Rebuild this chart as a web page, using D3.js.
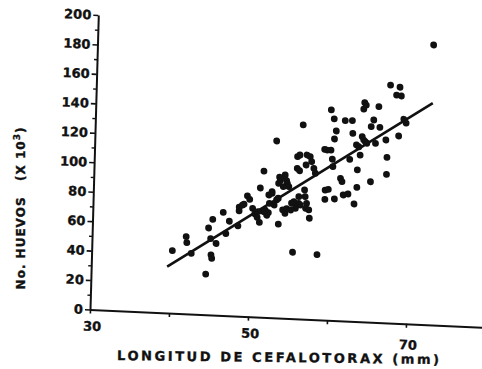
<!DOCTYPE html>
<html>
<head>
<meta charset="utf-8">
<script src="https://cdn.jsdelivr.net/npm/d3@7/dist/d3.min.js"></script>
<style>
  body { margin: 0; background: #fff; }
  svg { display: block; }
  text { font-family: 'DejaVu Sans', sans-serif; font-weight: bold; fill: #111; stroke: #111; stroke-width: 0.35px; }
</style>
</head>
<body>
<div id="chart"></div>
<script>
// longitud de cefalotorax (mm)
var lengthMm = [
  40.2, 41.9, 42.0, 42.6, 44.5, 44.7, 45.2, 45.0, 45.1, 45.2,
  45.7, 46.5, 46.9, 47.3, 48.4, 48.5, 48.5, 48.9, 49.1, 49.5,
  50.2, 51.1, 51.1, 51.5, 51.8, 52.0, 52.2, 52.6, 52.9, 53.2,
  53.5, 53.5, 53.6, 54.1, 54.4, 54.5, 54.0, 54.3, 54.5, 55.4,
  55.1, 55.6, 55.8, 56.0, 55.7, 56.0, 56.9, 57.3, 57.5, 55.7,
  56.0, 56.8, 58.0, 59.1, 56.7, 56.8, 57.0, 56.9, 57.3, 57.4,
  58.5, 59.3, 59.3, 53.0, 56.3, 52.2, 52.6, 52.3, 51.6, 53.4,
  55.0, 55.4, 56.0, 56.2, 54.2, 54.7, 54.0, 53.4, 50.5, 50.9,
  50.8, 67.2, 68.4, 68.0, 68.6, 59.8, 60.2, 64.0, 64.2, 63.9,
  65.8, 61.6, 62.5, 65.2, 64.9, 66.0, 60.5, 62.6, 60.3, 63.8,
  64.0, 64.2, 64.4, 63.1, 63.4, 66.8, 65.5, 68.4, 69.0, 69.3,
  59.4, 59.9, 63.6, 62.3, 60.1, 60.2, 67.0, 63.3, 67.0, 61.2,
  61.4, 65.0, 63.3, 59.7, 61.6, 62.2, 60.5, 63.0, 72.5, 57.8,
  49.8
]
// no. huevos (x 10^3)
var eggs = [
  42.5, 52.4, 48.3, 41.1, 27.5, 58.9, 64.9, 51.8, 40.7, 38.4,
  48.6, 69.9, 55.6, 64.1, 61.2, 71.4, 73.9, 75.5, 76.2, 81.8,
  73.6, 64.2, 87.6, 99.2, 72.8, 69.3, 71.1, 84.4, 76.5, 80.0,
  63.7, 95.5, 93.2, 95.6, 93.4, 91.6, 73.4, 71.2, 74.4, 45.0,
  78.2, 74.9, 77.2, 78.4, 110.0, 111.2, 111.4, 110.4, 107.0, 102.1,
  100.5, 104.6, 99.3, 115.8, 87.6, 83.1, 78.6, 75.2, 74.2, 68.6,
  44.2, 88.2, 81.9, 120.0, 131.7, 83.1, 85.5, 77.5, 71.6, 81.2,
  73.6, 79.3, 82.9, 77.3, 97.2, 89.4, 89.2, 91.3, 69.8, 71.5,
  67.6, 161.4, 160.2, 154.8, 154.3, 142.7, 136.7, 148.6, 147.1, 144.3,
  146.4, 135.9, 136.1, 137.2, 132.6, 132.4, 128.6, 127.5, 123.1, 125.5,
  123.3, 122.2, 121.2, 119.7, 118.6, 124.0, 121.4, 127.1, 138.6, 136.0,
  115.4, 115.5, 113.0, 109.8, 109.3, 104.3, 112.3, 102.8, 100.7, 96.6,
  94.4, 95.2, 91.0, 88.7, 85.4, 86.2, 82.4, 79.6, 189.9, 102.6,
  79.6
]
// recta de regresion (extremos)
var fitX = [39.6, 72.6]
var fitY = [31.5, 150.5]

var xTicks = [30, 40, 50, 60, 70]
var xLabels = [30, 50, 70]
var yTicks = [0, 20, 40, 60, 80, 100, 120, 140, 160, 180, 200]
var yMinor = [10, 30, 50, 70, 90, 110, 130, 150, 170, 190]

var width = 482
var height = 369

var svg = d3.select('#chart').append('svg')
  .attr('width', width)
  .attr('height', height)

svg.append('rect')
  .attr('width', width)
  .attr('height', height)
  .attr('fill', '#fff')

var x = d3.scaleLinear().domain([30, 80]).range([0, 395])
var y = d3.scaleLinear().domain([0, 200]).range([0, -294.5])

// the scanned page is a little skewed
var plot = svg.append('g')
  .attr('transform', 'matrix(1,0.045,-0.0282,1,90,309.5)')

// eje x
var xAxis = plot.append('g')
  .call(d3.axisBottom(x)
    .tickValues(xTicks)
    .tickSize(4)
    .tickSizeOuter(0)
    .tickPadding(8)
    .tickFormat(function (d) {
      return xLabels.indexOf(d) >= 0 ? d : ''
    }))
xAxis.select('.domain').attr('stroke-width', 2).attr('stroke', '#111')
xAxis.selectAll('.tick line').attr('stroke-width', 1.6).attr('stroke', '#111')
xAxis.selectAll('text')
  .attr('font-size', 13)
  .attr('font-family', null)
  .attr('fill', '#111')
  .attr('dx', 2)
  .attr('dy', function (d) {
    return d == 70 ? '1.05em' : '0.71em'
  })

// eje y
var yAxis = plot.append('g')
  .call(d3.axisLeft(y)
    .tickValues(yTicks)
    .tickSize(5)
    .tickSizeOuter(0)
    .tickPadding(2))
yAxis.select('.domain').attr('stroke-width', 2).attr('stroke', '#111')
yAxis.selectAll('.tick line').attr('stroke-width', 1.6).attr('stroke', '#111')
yAxis.selectAll('text')
  .attr('font-size', 13)
  .attr('font-family', null)
  .attr('fill', '#111')

var yMinorAxis = plot.append('g')
  .call(d3.axisLeft(y)
    .tickValues(yMinor)
    .tickSize(3)
    .tickFormat(''))
yMinorAxis.select('.domain').remove()
yMinorAxis.selectAll('.tick line').attr('stroke-width', 1.4).attr('stroke', '#111')

// recta
var line = d3.line()
  .x(function (d) { return x(d[0]) })
  .y(function (d) { return y(d[1]) })

plot.append('path')
  .datum(d3.zip(fitX, fitY))
  .attr('fill', 'none')
  .attr('stroke', '#111')
  .attr('stroke-width', 2.6)
  .attr('d', line)

// puntos
plot.selectAll('.dot')
  .data(d3.zip(lengthMm, eggs))
  .enter().append('circle')
  .attr('class', 'dot')
  .attr('cx', function (d) { return x(d[0]) })
  .attr('cy', function (d) { return y(d[1]) })
  .attr('r', 3.4)
  .attr('fill', '#111')

// titulos
svg.append('text')
  .attr('transform', 'translate(278,362) rotate(0.7)')
  .attr('text-anchor', 'middle')
  .attr('font-size', 13)
  .attr('textLength', 322)
  .attr('lengthAdjust', 'spacing')
  .text('LONGITUD  DE  CEFALOTORAX  (mm)')

var yTitle = svg.append('text')
  .attr('transform', 'translate(25,208) rotate(-90)')
  .attr('text-anchor', 'middle')
  .attr('font-size', 12)
  .attr('letter-spacing', 1)
  .attr('xml:space', 'preserve')
yTitle.append('tspan').text('No. HUEVOS   (X 10')
yTitle.append('tspan').attr('dy', -5).attr('font-size', 9).text('3')
yTitle.append('tspan').attr('dy', 5).text(')')
</script>
</body>
</html>
